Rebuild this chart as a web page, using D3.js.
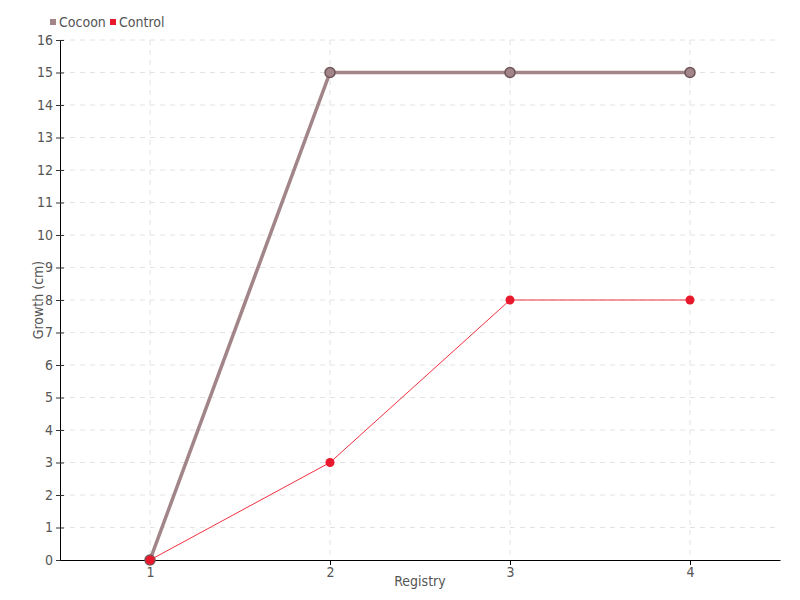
<!DOCTYPE html>
<html><head><meta charset="utf-8">
<script src="https://cdn.jsdelivr.net/npm/d3@7"></script>
<style>
body{margin:0;background:#fff;}
text{font-family:"Liberation Sans Narrow","DejaVu Sans Condensed",sans-serif;fill:#555;}
</style></head><body>
<svg id="c" width="800" height="600"></svg>
<script>
const categories = [1, 2, 3, 4];
const cocoon = [0, 15, 15, 15];
const control = [0, 3, 8, 8];
const yTicks = d3.range(0, 17);
const seriesNames = ["Cocoon", "Control"];
const colors = ["#a28589", "#e8192c"];

const svg = d3.select("#c");
const m = {l:60, r:20, t:40, b:40};
const W = 800, H = 600;
const x = d3.scaleLinear().domain([0.5, 4.5]).range([m.l, W - m.r]);
const y = d3.scaleLinear().domain([0, 16]).range([H - m.b, m.t]);

// grid
svg.append("g").selectAll("line").data(yTicks.filter(d=>d>0)).join("line")
  .attr("x1", m.l).attr("x2", W - m.r).attr("y1", d=>y(d)).attr("y2", d=>y(d))
  .attr("stroke", "#e2e2e2").attr("stroke-dasharray", "5,5");
svg.append("g").selectAll("line").data(categories).join("line")
  .attr("x1", d=>x(d)).attr("x2", d=>x(d)).attr("y1", m.t).attr("y2", H - m.b)
  .attr("stroke", "#e2e2e2").attr("stroke-dasharray", "5,5");

// axes
const yAxis = svg.append("g").attr("transform", `translate(${m.l},0)`)
  .call(d3.axisLeft(y).tickValues(yTicks).tickFormat(d3.format("d")).tickSize(4).tickSizeOuter(0).tickPadding(3));
yAxis.select(".domain").attr("stroke", "#000");
yAxis.selectAll(".tick line").attr("stroke", "#333").attr("x2", 4).attr("x1", -4);
yAxis.selectAll("text").style("font-size", "14px").attr("fill", "#555");

const xAxis = svg.append("g").attr("transform", `translate(0,${H - m.b})`)
  .call(d3.axisBottom(x).tickValues(categories).tickFormat(d3.format("d")).tickSize(5).tickSizeOuter(0).tickPadding(2));
xAxis.select(".domain").attr("stroke", "#000");
xAxis.selectAll("text").style("font-size", "14px").attr("fill", "#555");

// axis labels
svg.append("text").attr("transform", `translate(43,${(m.t + H - m.b)/2}) rotate(-90)`)
  .attr("text-anchor", "middle").style("font-size", "14px").text("Growth (cm)");
svg.append("text").attr("x", (m.l + W - m.r)/2).attr("y", 586)
  .attr("text-anchor", "middle").style("font-size", "14px").text("Registry");

const line = d3.line().x((d,i)=>x(categories[i])).y(d=>y(d));

// cocoon
svg.append("path").datum(cocoon).attr("d", line).attr("fill", "none")
  .attr("stroke", colors[0]).attr("stroke-width", 3.5);
svg.append("g").selectAll("circle").data(cocoon).join("circle")
  .attr("cx", (d,i)=>x(categories[i])).attr("cy", d=>y(d)).attr("r", 5)
  .attr("fill", colors[0]).attr("stroke", "#6e5458").attr("stroke-width", 1.5);

// control
svg.append("path").datum(control).attr("d", line).attr("fill", "none")
  .attr("stroke", "#f0303f").attr("stroke-width", 1);
svg.append("g").selectAll("circle").data(control).join("circle")
  .attr("cx", (d,i)=>x(categories[i])).attr("cy", d=>y(d)).attr("r", 4.5)
  .attr("fill", colors[1]);

// legend
const leg = svg.append("g");
const legX = [50, 110];
seriesNames.forEach((n,i)=>{
  leg.append("rect").attr("x", legX[i]).attr("y", 19).attr("width", 6).attr("height", 6).attr("fill", colors[i]);
  leg.append("text").attr("x", legX[i] + 9).attr("y", 27).style("font-size", "14px").text(n);
});
</script></body></html>
